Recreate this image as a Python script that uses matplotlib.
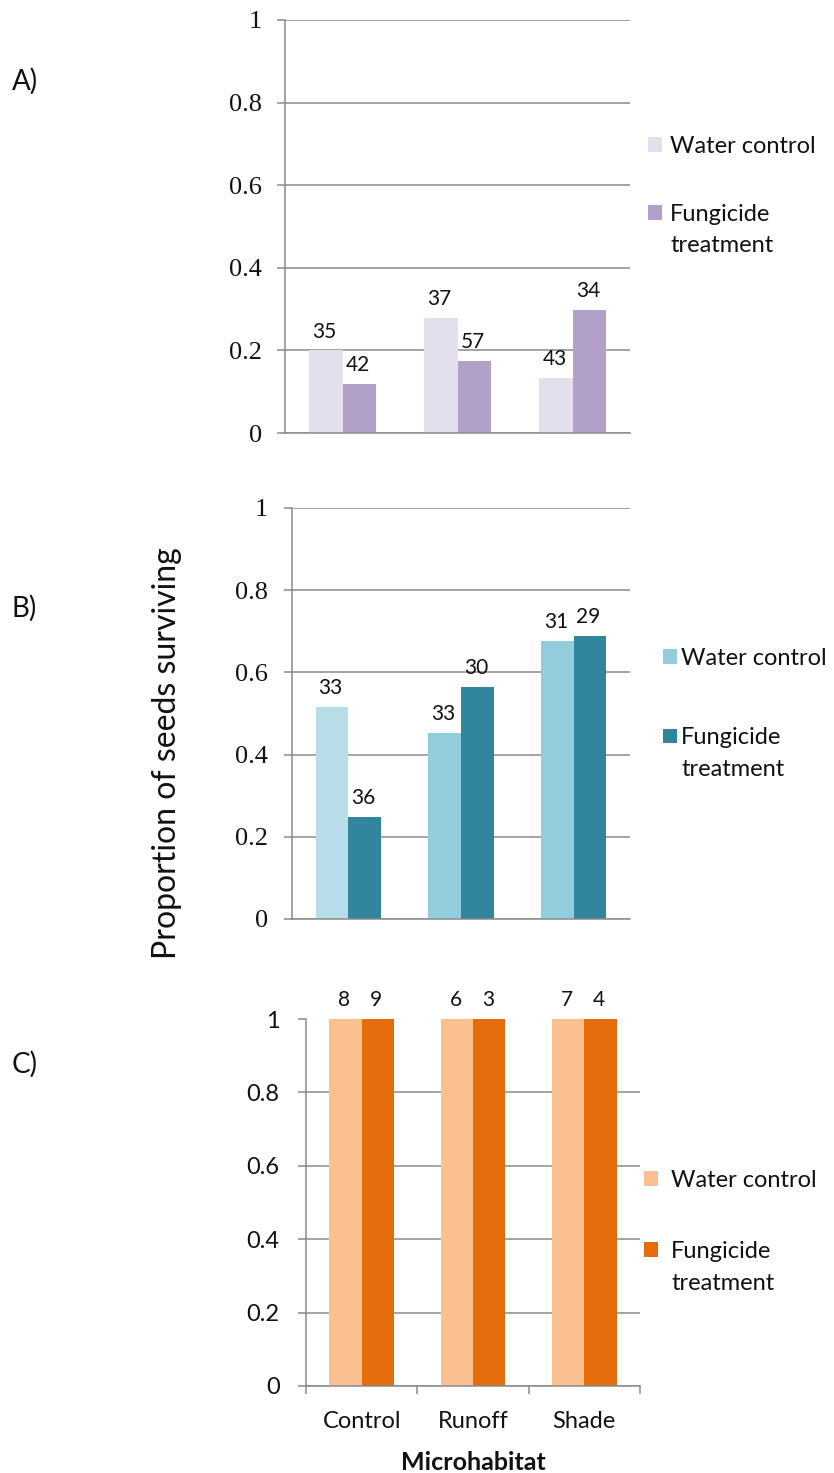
import matplotlib
matplotlib.use("Agg")
import matplotlib.pyplot as plt
from matplotlib.patches import Patch

# ---------------- data ----------------
categories = ["Control", "Runoff", "Shade"]
yticks = [0, 0.2, 0.4, 0.6, 0.8, 1]
ytick_labels = ["0", "0.2", "0.4", "0.6", "0.8", "1"]
series_names = ["Water control", "Fungicide", "treatment"]
panel_names = ["A)", "B)", "C)"]

a_water = [0.200, 0.278, 0.133]
a_fung = [0.119, 0.174, 0.298]
a_water_n = [35, 37, 43]
a_fung_n = [42, 57, 34]

b_water = [0.516, 0.453, 0.676]
b_fung = [0.248, 0.565, 0.689]
b_water_n = [33, 33, 31]
b_fung_n = [36, 30, 29]

c_water = [1.0, 1.0, 1.0]
c_fung = [1.0, 1.0, 1.0]
c_water_n = [8, 6, 7]
c_fung_n = [9, 3, 4]

# ---------------- style ----------------
W, H = 834, 1473
SANS = ["Lato", "DejaVu Sans"]
SERIF = ["Liberation Serif", "DejaVu Serif"]
GRID = "#8a8a8a"
INK = "#111111"
plt.rcParams["font.family"] = SANS

fig = plt.figure(figsize=(W / 100, H / 100), dpi=100)


def fx(px):
    return px / W


def fy(py):
    return 1 - py / H


def make_ax(left, right, top, bottom):
    return fig.add_axes([fx(left), fy(bottom), fx(right) - fx(left), (bottom - top) / H])


panels = [
    dict(box=(285, 630, 20, 433), water=a_water, fung=a_fung, wn=a_water_n, fn=a_fung_n,
         wcol=["#e4dfec", "#e4dfec", "#e4dfec"], fcol="#b1a0c7", lwcol="#e4dfec",
         tickfont=SERIF, ticksize=19, tpad=10.5, top_grid=True,
         leg=dict(x=648, y=136, pad=0.34, sp=2.0), letter_y=81),
    dict(box=(292, 630, 508, 919), water=b_water, fung=b_fung, wn=b_water_n, fn=b_fung_n,
         wcol=["#b7dee8", "#93cddd", "#93cddd"], fcol="#31859c", lwcol="#93cddd",
         tickfont=SERIF, ticksize=19, tpad=11.5, top_grid=True,
         leg=dict(x=663, y=648, pad=0.17, sp=2.47), letter_y=608),
    dict(box=(306, 640, 1019, 1386), water=c_water, fung=c_fung, wn=c_water_n, fn=c_fung_n,
         wcol=["#fac090", "#fac090", "#fac090"], fcol="#e46c0a", lwcol="#fac090",
         tickfont=SANS, ticksize=17, tpad=13, top_grid=False,
         leg=dict(x=644, y=1170, pad=0.55, sp=2.13), letter_y=1064),
]

bw = 0.29
x = list(range(len(categories)))

for i, p in enumerate(panels):
    l, r, t, b = p["box"]
    ax = make_ax(l, r, t, b)
    ax.set_xlim(-0.5, len(categories) - 0.5)
    ax.set_ylim(0, 1)
    ax.set_axisbelow(True)

    bars_w = ax.bar([xi - bw / 2 for xi in x], p["water"], width=bw, color=p["wcol"], zorder=2,
                    linewidth=0)
    bars_f = ax.bar([xi + bw / 2 for xi in x], p["fung"], width=bw, color=p["fcol"], zorder=2,
                    linewidth=0)
    for bars, ns in ((bars_w, p["wn"]), (bars_f, p["fn"])):
        for bar, n in zip(bars, ns):
            ax.annotate(str(n), xy=(bar.get_x() + bar.get_width() / 2, bar.get_height()),
                        xytext=(-1, 13.5), textcoords="offset points", ha="center", va="center",
                        fontsize=15, family=SANS, color=INK, annotation_clip=False)

    # grid and spines
    ax.set_yticks(yticks)
    ax.set_yticklabels(ytick_labels, family=p["tickfont"], fontsize=p["ticksize"])
    ax.yaxis.grid(True, color=GRID, linewidth=1.1)
    if not p["top_grid"]:
        ax.yaxis.get_gridlines()[-1].set_visible(False)
    ax.tick_params(axis="y", length=6, width=1.1, color=GRID, pad=p["tpad"], labelcolor=INK)
    for s in ("top", "right"):
        ax.spines[s].set_visible(False)
    for s in ("left", "bottom"):
        ax.spines[s].set_color(GRID)
        ax.spines[s].set_linewidth(1.1)

    if i < 2:
        ax.set_xticks([])
    else:
        ax.set_xticks(x)
        ax.set_xticklabels(categories, fontsize=17)
        ax.set_xticks([-0.5, 0.5, 1.5, 2.5], minor=True)
        ax.tick_params(axis="x", which="major", length=0, pad=18, labelcolor=INK)
        ax.tick_params(axis="x", which="minor", length=6, width=1.1, color=GRID)
        ax.set_xlabel("Microhabitat", fontsize=18, fontweight="bold", labelpad=14, color=INK)

    # legend
    lg = p["leg"]
    handles = [Patch(facecolor=p["lwcol"], edgecolor="none"),
               Patch(facecolor=p["fcol"], edgecolor="none")]
    leg = ax.legend(handles, series_names[:2], loc="upper left",
                    bbox_to_anchor=(fx(lg["x"]), fy(lg["y"])), bbox_transform=fig.transFigure,
                    frameon=False, fontsize=17, handlelength=0.6, handleheight=0.6,
                    handletextpad=lg["pad"], labelspacing=lg["sp"], borderpad=0,
                    borderaxespad=0)
    ax.annotate(series_names[2], xy=(0, 1), xycoords=leg.get_texts()[1],
                xytext=(0, -22.5), textcoords="offset points", ha="left", va="top",
                fontsize=17, color=INK, zorder=10, annotation_clip=False)
    for tx in leg.get_texts():
        tx.set_color(INK)

    fig.text(fx(12), fy(p["letter_y"]), panel_names[i], fontsize=20, ha="left", va="center",
             color=INK)

fig.text(fx(167), fy(753), "Proportion of seeds surviving", rotation=90, fontsize=23,
         ha="center", va="center", color=INK)

fig.savefig("out.png", dpi=100)
